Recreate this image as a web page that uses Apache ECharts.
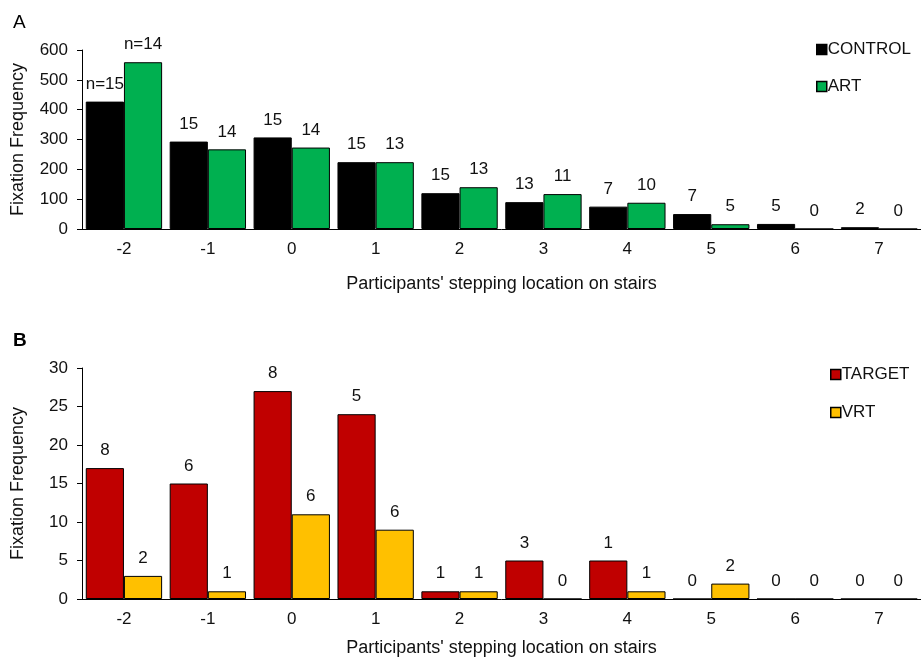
<!DOCTYPE html>
<html>
<head>
<meta charset="utf-8">
<script src="https://cdn.jsdelivr.net/npm/echarts@6/dist/echarts.min.js"></script>
<style>
  html, body { margin: 0; padding: 0; background: #fff; }
  #chart { width: 921px; height: 662px; }
</style>
</head>
<body>
<div id="chart"></div>
<script>
  const steps = ['-2', '-1', '0', '1', '2', '3', '4', '5', '6', '7'];

  // panel A
  const controlVals = [427, 293, 307, 224, 120, 90, 75, 50, 17, 6];
  const artVals = [559, 267, 273, 224, 140, 117, 88, 16, 0, 0];
  const controlN = ['n=15', '15', '15', '15', '15', '13', '7', '7', '5', '2'];
  const artN = ['n=14', '14', '14', '13', '13', '11', '10', '5', '0', '0'];

  // panel B
  const targetVals = [17, 15, 27, 24, 1, 5, 5, 0, 0, 0];
  const vrtVals = [3, 1, 11, 9, 1, 0, 1, 2, 0, 0];
  const targetN = ['8', '6', '8', '5', '1', '3', '1', '0', '0', '0'];
  const vrtN = ['2', '1', '6', '6', '1', '0', '1', '2', '0', '0'];

  const font = 'Liberation Sans, Arial, sans-serif';
  const txt = '#111';

  const myChart = echarts.init(document.getElementById('chart'));

  function xAx(gridIndex, gap) {
    return {
      type: 'category',
      gridIndex: gridIndex,
      data: steps,
      name: "Participants' stepping location on stairs",
      nameLocation: 'middle',
      nameGap: gap,
      nameTextStyle: { fontFamily: font, fontSize: 18, color: txt },
      axisLine: { lineStyle: { color: '#000', width: 1 } },
      axisTick: { alignWithLabel: true, length: 5, lineStyle: { color: '#000' } },
      axisLabel: { fontFamily: font, fontSize: 17, color: txt, margin: 12 }
    };
  }
  function yAx(gridIndex, max, interval) {
    return {
      type: 'value',
      gridIndex: gridIndex,
      min: 0,
      max: max,
      interval: interval,
      name: 'Fixation Frequency',
      nameLocation: 'middle',
      nameGap: 55,
      nameTextStyle: { fontFamily: font, fontSize: 18, color: txt },
      axisLine: { show: true, lineStyle: { color: '#000', width: 1 } },
      axisTick: { show: true, length: 5, lineStyle: { color: '#000' } },
      axisLabel: { fontFamily: font, fontSize: 17, color: txt, margin: 14 },
      splitLine: { show: false }
    };
  }
  function barSeries(name, x, y, vals, labels, color) {
    return {
      name: name,
      type: 'bar',
      xAxisIndex: x,
      yAxisIndex: y,
      data: vals,
      barGap: '0%',
      barCategoryGap: '9%',
      itemStyle: { color: color, borderColor: '#000', borderWidth: 1 },
      label: {
        show: true,
        position: 'top',
        distance: 9,
        fontFamily: font,
        fontSize: 17,
        color: txt,
        formatter: p => labels[p.dataIndex]
      }
    };
  }

  const legendText = { fontFamily: font, fontSize: 17, color: txt, padding: [0, 0, 0, -4] };

  const option = {
    animation: false,
    backgroundColor: '#fff',
    title: [
      { text: 'A', left: 8, top: 8, textStyle: { fontFamily: font, fontSize: 19, fontWeight: 'normal', color: '#000' } },
      { text: 'B', left: 8, top: 326, textStyle: { fontFamily: font, fontSize: 19, fontWeight: 'bold', color: '#000' } }
    ],
    legend: [
      {
        data: ['CONTROL', 'ART'],
        orient: 'vertical',
        left: 816, top: 41, padding: 0,
        itemWidth: 10, itemHeight: 10, itemGap: 20,
        textStyle: legendText,
        itemStyle: { borderWidth: 1.5 },
        icon: 'rect'
      },
      {
        data: ['TARGET', 'VRT'],
        orient: 'vertical',
        left: 830, top: 366, padding: 0,
        itemWidth: 10, itemHeight: 10, itemGap: 21,
        textStyle: legendText,
        itemStyle: { borderWidth: 1.5 },
        icon: 'rect'
      }
    ],
    grid: [
      { left: 82, right: -5, top: 50, bottom: 433 },
      { left: 82, right: -5, top: 368, bottom: 63 }
    ],
    xAxis: [xAx(0, 46), xAx(1, 40)],
    yAxis: [yAx(0, 600, 100), yAx(1, 30, 5)],
    series: [
      barSeries('CONTROL', 0, 0, controlVals, controlN, '#000000'),
      barSeries('ART', 0, 0, artVals, artN, '#00b050'),
      barSeries('TARGET', 1, 1, targetVals, targetN, '#c00000'),
      barSeries('VRT', 1, 1, vrtVals, vrtN, '#ffc000')
    ]
  };

  myChart.setOption(option);
</script>
</body>
</html>
